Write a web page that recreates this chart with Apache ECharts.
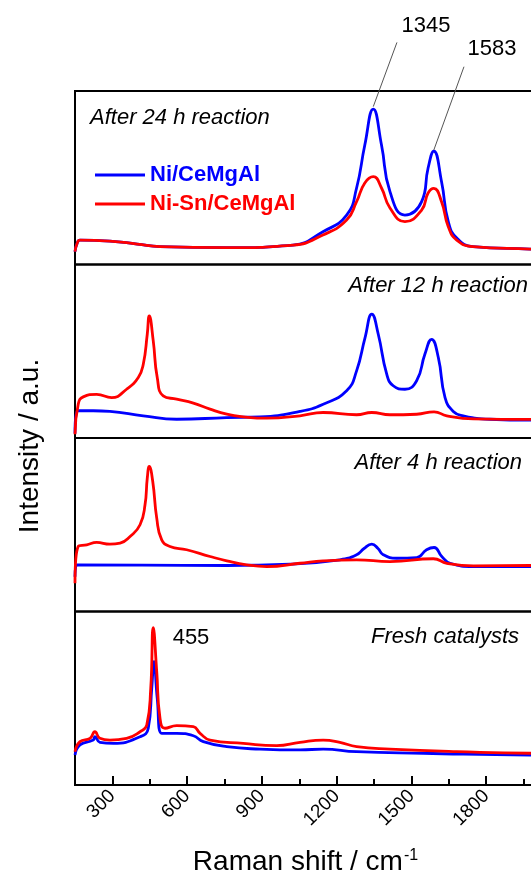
<!DOCTYPE html>
<html lang="en">
<head>
<meta charset="UTF-8">
<title>Raman spectra</title>
<style>
    * { margin: 0; padding: 0; }
    body { background: #fff; }
    #chart { width: 531px; height: 875px; }
</style>
<script src="https://cdn.jsdelivr.net/npm/echarts@6/dist/echarts.min.js"></script>
</head>
<body>
<div id="chart"></div>
<script>
// [Raman shift (cm-1), relative intensity (% of panel height)]
var p24_ni = [[150,7.4],[158,12],[170,14.1],[290,13.5],[400,11.8],[491,10.3],[760,9.7],[1025,11.2],[1145,18.9],[1240,28.5],[1280,44.1],[1313,68.9],[1347,89.6],[1380,68.9],[1414,42.0],[1474,28.5],[1541,36.2],[1567,55.6],[1590,65.4],[1621,47.7],[1648,24.7],[1682,15.3],[1747,10.3],[1976,8.9],[2000,8.8]];
var p24_nisn = [[150,7.4],[158,12],[170,14.1],[290,13.5],[400,11.8],[491,10.3],[760,9.7],[1025,11.2],[1145,17.0],[1240,25.6],[1280,36.2],[1313,47.0],[1347,50.6],[1380,44.1],[1414,32.6],[1474,24.7],[1541,31.4],[1567,41.2],[1590,43.9],[1621,36.2],[1648,21.8],[1682,14.1],[1747,10.3],[1976,8.9],[2000,8.8]];

var p12_ni = [[150,2.6],[160,15.7],[223,15.7],[290,15.3],[424,12.8],[558,10.8],[759,11.8],[892,12.2],[1053,15.3],[1146,19.5],[1240,27.2],[1280,38.7],[1314,57.9],[1341,71.4],[1367,59.8],[1401,36.8],[1427,30.1],[1474,28.1],[1521,33.0],[1554,48.3],[1581,56.9],[1608,46.4],[1635,23.3],[1668,15.3],[1708,12.8],[1815,10.8],[1976,10.3],[2000,10.3]];
var p12_nisn = [[150,2.2],[163,19.5],[183,23.7],[237,25.2],[297,23.3],[357,28.1],[404,34.9],[424,42.5],[440,59.8],[448,70.4],[464,56.0],[480,34.9],[504,24.3],[558,22.4],[625,20.1],[692,16.6],[759,13.7],[825,12.2],[919,11.4],[1053,12.8],[1146,14.7],[1280,13.4],[1341,14.7],[1414,13.4],[1521,13.7],[1591,15.1],[1642,12.8],[1749,11.0],[1976,10.7],[2000,10.7]];

var p4_ni = [[150,20],[157,26.9],[420,26.7],[759,26.5],[1013,27.3],[1213,29.8],[1280,32.7],[1310,36.3],[1341,38.8],[1366,36.3],[1387,32.7],[1441,30.7],[1521,31.1],[1561,35.6],[1591,36.9],[1622,31.7],[1655,27.8],[1749,25.9],[1976,25.9],[2000,25.9]];
var p4_nisn = [[150,16.3],[163,37.5],[197,38.4],[237,39.8],[290,38.8],[331,39.4],[371,43.2],[411,50.0],[431,61.5],[440,76.8],[448,83.6],[462,74.9],[478,53.8],[498,41.3],[531,37.5],[598,35.6],[692,31.7],[759,29.2],[839,26.9],[919,25.9],[1053,27.8],[1146,29.2],[1280,29.8],[1414,28.8],[1588,30.4],[1642,27.8],[1749,26.3],[1976,26.5],[2000,26.5]];

var fresh_ni = [[150,17.3],[170,23.1],[223,25.9],[230,27.8],[250,24.6],[304,24.0],[411,27.8],[444,32.7],[458,55.7],[467,71.1],[480,50.0],[498,29.8],[558,29.8],[625,28.4],[665,25.0],[759,22.1],[892,20.7],[1053,20.2],[1146,20.7],[1280,19.2],[1548,18.3],[1976,17.3],[2000,17.3]];
var fresh_nisn = [[150,19.2],[170,25.0],[210,26.9],[230,30.7],[250,26.9],[290,25.9],[357,26.9],[411,30.7],[438,34.6],[454,55.9],[464,90.7],[478,65.3],[491,38.6],[511,32.7],[558,34.2],[625,33.6],[652,29.8],[692,25.9],[825,24.0],[959,22.7],[1053,24.6],[1146,25.9],[1213,24.6],[1280,22.1],[1414,20.7],[1682,19.2],[1976,18.3],[2000,18.3]];

var panelLabels = ['After 24 h reaction', 'After 12 h reaction', 'After 4 h reaction', 'Fresh catalysts'];
var seriesNames = ['Ni/CeMgAl', 'Ni-Sn/CeMgAl'];
var majorTicks = [300, 600, 900, 1200, 1500, 1800];
var minorTicks = [450, 750, 1050, 1350, 1650, 1950];
// leader lines from the D and G band tops (panel 1) up to their labels
var peakLines = [[[1347, 91], [1442, 128]], [[1590, 66], [1711, 114]]];
var peakTexts = ['1345', '1583', '455'];

var chart = echarts.init(document.getElementById('chart'));

var FONT = '"Liberation Sans", Arial, sans-serif';
var BLUE = '#0000ff', RED = '#ff0000';
var panels = [[p24_ni, p24_nisn], [p12_ni, p12_nisn], [p4_ni, p4_nisn], [fresh_ni, fresh_nisn]];
var tops = [91, 264.5, 438, 611.5];

var grids = [], xAxes = [], yAxes = [], series = [];
tops.forEach(function (t, i) {
    grids.push({
        left: 75, top: t, width: 461, height: 173.5,
        show: true, borderColor: '#000', borderWidth: 2,
        outerBoundsMode: 'none', containLabel: false
    });
    var bottom = i === 3;
    xAxes.push({
        gridIndex: i, type: 'value', min: 150, max: 2000,
        position: 'bottom',
        axisLine: { show: false, onZero: false },
        splitLine: { show: false },
        axisTick: bottom ? {
            show: true, inside: true, length: 9, customValues: majorTicks,
            lineStyle: { color: '#000', width: 2 }
        } : { show: false },
        axisLabel: bottom ? {
            show: true, customValues: majorTicks, rotate: 45, margin: 8,
            color: '#000', fontSize: 19, fontFamily: FONT,
            formatter: function (v) { return String(v); }
        } : { show: false },
        name: bottom ? '{a|Raman shift / cm}{s|-1}' : '',
        nameLocation: 'middle', nameGap: 63,
        nameTextStyle: {
            color: '#000', fontFamily: FONT,
            rich: {
                a: { fontSize: 28, fontFamily: FONT, color: '#000' },
                s: { fontSize: 16, fontFamily: FONT, color: '#000', verticalAlign: 'top', padding: [0, 0, 0, 1] }
            }
        }
    });
    yAxes.push({
        gridIndex: i, type: 'value', min: 0, max: 100, show: false
    });
    panels[i].forEach(function (d, k) {
        series.push({
            name: seriesNames[k], type: 'line', xAxisIndex: i, yAxisIndex: i,
            data: d, symbol: 'none', smooth: 0.5,
            lineStyle: { color: k ? RED : BLUE, width: 2.8 },
            itemStyle: { color: k ? RED : BLUE },
            z: 3 + k
        });
    });
});

// minor ticks on the bottom panel
xAxes.push({
    gridIndex: 3, type: 'value', min: 150, max: 2000, position: 'bottom',
    axisLine: { show: false, onZero: false }, splitLine: { show: false },
    axisLabel: { show: false },
    axisTick: {
        show: true, inside: true, length: 6, customValues: minorTicks,
        lineStyle: { color: '#000', width: 2 }
    }
});

function txt(x, y, text, align, font) {
    return {
        type: 'text', x: x, y: y, z: 10, silent: true,
        style: { text: text, font: font, fill: '#000', align: align, verticalAlign: 'middle' }
    };
}
var ital = 'italic 22px ' + FONT;
var plain = '22px ' + FONT;

var graphics = [
    txt(90, 118, panelLabels[0], 'left', ital),
    txt(528, 286, panelLabels[1], 'right', ital),
    txt(522, 463, panelLabels[2], 'right', ital),
    txt(519, 637, panelLabels[3], 'right', ital),
    txt(426, 26, peakTexts[0], 'center', plain),
    txt(492, 49, peakTexts[1], 'center', plain),
    txt(191, 638, peakTexts[2], 'center', plain),
    {
        type: 'text', x: 30, y: 446, rotation: Math.PI / 2, silent: true,
        style: { text: 'Intensity / a.u.', font: '28px ' + FONT, fill: '#000', align: 'center', verticalAlign: 'middle' }
    }
];

var option = {
    animation: false,
    backgroundColor: '#fff',
    grid: grids,
    xAxis: xAxes,
    yAxis: yAxes,
    legend: {
        left: 95, top: 164, orient: 'vertical', padding: 0,
        itemWidth: 50, itemHeight: 3, itemGap: 7,
        icon: 'rect',
        textStyle: { fontSize: 22, fontWeight: 'bold', fontFamily: FONT },
        data: [
            { name: seriesNames[0], textStyle: { color: BLUE } },
            { name: seriesNames[1], textStyle: { color: RED } }
        ],
        selectedMode: false
    },
    series: series,
    graphic: graphics
};
chart.setOption(option);

// leader lines: end points placed through the top panel's scales
peakLines.forEach(function (p) {
    var a = chart.convertToPixel({ gridIndex: 0 }, p[0]);
    var b = chart.convertToPixel({ gridIndex: 0 }, p[1]);
    graphics.push({
        type: 'line', silent: true, z: 10,
        shape: { x1: a[0], y1: a[1], x2: b[0], y2: b[1] },
        style: { stroke: '#555', lineWidth: 1 }
    });
});
chart.setOption({ graphic: graphics });
</script>
</body>
</html>
